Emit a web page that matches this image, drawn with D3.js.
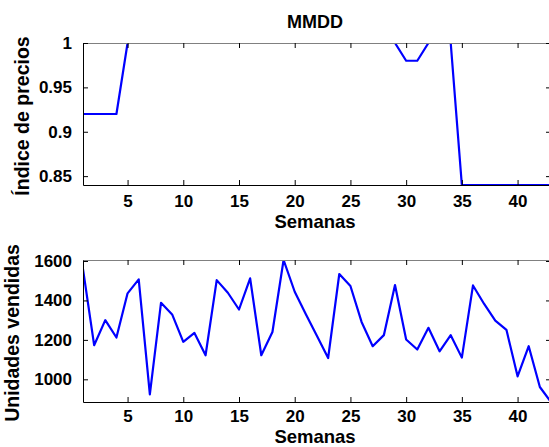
<!DOCTYPE html>
<html>
<head>
<meta charset="utf-8">
<script src="https://cdn.jsdelivr.net/npm/d3@7"></script>
<style>
  html, body { margin: 0; padding: 0; background: #fff; }
  svg { display: block; }
  text { font-family: "Liberation Sans", Arial, Helvetica, sans-serif; font-weight: bold; fill: #000; }
</style>
</head>
<body>
<svg id="chart" width="549" height="447"></svg>
<script>
// Weeks 1..43
const weeks = d3.range(1, 44);

// Price index per week
const priceIndex = [
  0.92, 0.92, 0.92, 0.92, 1, 1, 1, 1, 1, 1,
  1, 1, 1, 1, 1, 1, 1, 1, 1, 1,
  1, 1, 1, 1, 1, 1, 1, 1, 1, 0.98,
  0.98, 1, 1, 1, 0.84, 0.84, 0.84, 0.84, 0.84, 0.84,
  0.84, 0.84, 0.84
];

// Units sold per week
const unitsSold = [
  1558, 1173, 1300, 1212, 1436, 1507, 924, 1388, 1329, 1190,
  1235, 1122, 1503, 1439, 1354, 1512, 1122, 1240, 1605, 1444,
  1330, 1220, 1108, 1534, 1473, 1291, 1168, 1224, 1478, 1202,
  1151, 1261, 1142, 1224, 1110, 1476, 1382, 1298, 1251, 1015,
  1168, 961, 885
];

const xTicks = [5, 10, 15, 20, 25, 30, 35, 40];
const priceTicks = [0.85, 0.9, 0.95, 1];
const unitsTicks = [1000, 1200, 1400, 1600];

const titleText = "MMDD";
const xLabel = "Semanas";
const priceLabel = "Índice de precios";
const unitsLabel = "Unidades vendidas";

const svg = d3.select("#chart");
const left = 83, right = 551;
const tickFont = 17, labelFont = 19.5, xLabelFont = 18.5;

function panel(cfg) {
  const { top, bottom, values, domain, ticks, fmt, ylabel, ylabelX, xPad, xlabelDy, title } = cfg;
  const x = d3.scaleLinear().domain([1, 43]).range([left, right]);
  const y = d3.scaleLinear().domain(domain).range([bottom, top]);
  const g = svg.append("g");
  const clipId = "clip" + Math.round(top);
  g.append("clipPath").attr("id", clipId)
    .append("rect").attr("x", left).attr("y", top)
    .attr("width", right - left).attr("height", bottom - top);

  // data line
  g.append("path")
    .datum(weeks.map((w, i) => [w, values[i]]))
    .attr("clip-path", `url(#${clipId})`)
    .attr("fill", "none")
    .attr("stroke", "#0000ff")
    .attr("stroke-width", 2.2)
    .attr("stroke-linejoin", "round")
    .attr("d", d3.line().x(d => x(d[0])).y(d => y(d[1])));

  // box: top/right in gray, left/bottom in black
  g.append("line").attr("x1", left).attr("x2", right).attr("y1", top + 0.5).attr("y2", top + 0.5)
    .attr("stroke", "#808080").attr("stroke-width", 1);
  g.append("line").attr("x1", right - 0.5).attr("x2", right - 0.5).attr("y1", top).attr("y2", bottom)
    .attr("stroke", "#808080").attr("stroke-width", 1);

  // bottom axis (ticks inward)
  const xa = d3.axisBottom(x).tickValues(xTicks).tickSizeInner(-5).tickSizeOuter(0).tickPadding(xPad).tickFormat(d3.format("d"));
  const gx = g.append("g").attr("transform", `translate(0,${bottom})`).call(xa);
  gx.select(".domain").attr("stroke", "#000");
  gx.selectAll("text").attr("font-size", tickFont).attr("font-family", null);
  // top ticks
  const xt = d3.axisTop(x).tickValues(xTicks).tickSizeInner(-5).tickSizeOuter(0).tickFormat("");
  const gxt = g.append("g").attr("transform", `translate(0,${top})`).call(xt);
  gxt.select(".domain").remove();

  // left axis
  const ya = d3.axisLeft(y).tickValues(ticks).tickSizeInner(-5).tickSizeOuter(0).tickPadding(11).tickFormat(fmt);
  const gy = g.append("g").attr("transform", `translate(${left},0)`).call(ya);
  gy.select(".domain").attr("stroke", "#000");
  gy.selectAll("text").attr("font-size", tickFont).attr("font-family", null);
  // right ticks
  const yr = d3.axisRight(y).tickValues(ticks).tickSizeInner(-5).tickSizeOuter(0).tickFormat("");
  const gyr = g.append("g").attr("transform", `translate(${right},0)`).call(yr);
  gyr.select(".domain").remove();

  // x label
  g.append("text").attr("x", (left + right) / 2 - 2).attr("y", bottom + xlabelDy)
    .attr("text-anchor", "middle").attr("font-size", xLabelFont).text(xLabel);
  // y label
  g.append("text")
    .attr("transform", `translate(${ylabelX},${(top + bottom) / 2 + 2}) rotate(-90)`)
    .attr("text-anchor", "middle").attr("font-size", labelFont).text(ylabel);
  if (title) {
    g.append("text").attr("x", (left + right) / 2 - 2).attr("y", top - 15)
      .attr("text-anchor", "middle").attr("font-size", 18).text(title);
  }
}

panel({
  top: 43, bottom: 185, values: priceIndex, domain: [0.84, 1],
  ticks: priceTicks, fmt: d => String(d), ylabel: priceLabel, ylabelX: 29,
  xPad: 10, xlabelDy: 43, title: titleText
});

panel({
  top: 260, bottom: 402, values: unitsSold, domain: [885, 1605],
  ticks: unitsTicks, fmt: d3.format("d"), ylabel: unitsLabel, ylabelX: 19,
  xPad: 8, xlabelDy: 41
});
</script>
</body>
</html>
